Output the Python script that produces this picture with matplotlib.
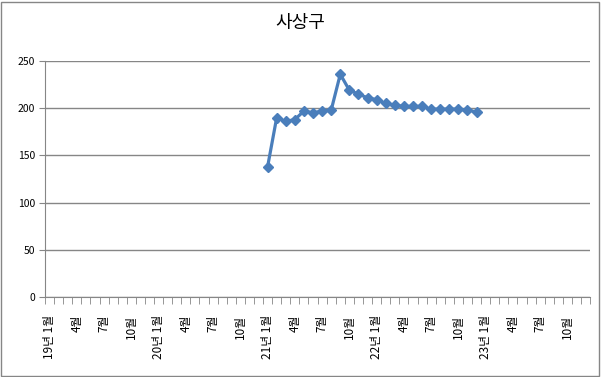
import numpy as np
import matplotlib.pyplot as plt
from matplotlib.patches import Rectangle

plt.rcParams['font.family'] = ['Noto Sans CJK KR', 'DejaVu Sans']

years = [19, 20, 21, 22, 23]
months = list(range(1, 13))
labels = []
for y in years:
    for m in months:
        if m == 1:
            labels.append(f"{y}년 {m}월")
        elif m in (4, 7, 10):
            labels.append(f"{m}월")
        else:
            labels.append("")

# 21년 1월 ~ 22년 12월
values_2021_2022 = [138, 190, 186, 188, 197, 195, 197, 198, 236, 219, 215, 211,
                    209, 205, 203, 202, 202, 202, 199, 199, 199, 199, 198, 196]

values = [np.nan] * 24 + values_2021_2022 + [np.nan] * 12

fig = plt.figure(figsize=(6.01, 3.77), dpi=100)
ax = fig.add_axes([0.0749, 0.2122, 0.907, 0.626])

x = np.arange(len(labels))
ax.plot(x, values, color="#4A7EBB", lw=2.3, marker="D", ms=5.5, zorder=3)

ax.set_xlim(-0.5, len(labels) - 0.5)
ax.set_ylim(0, 250)
ax.set_yticks(range(0, 251, 50))
ax.grid(axis="y", color="#868686", lw=1)
ax.set_axisbelow(True)

ax.set_xticks(x)
ax.set_xticklabels(labels, rotation=90, fontsize=8.5)
ax.set_xticks(np.arange(-0.5, len(labels), 1), minor=True)
ax.tick_params(axis="x", which="major", length=0, pad=13)
ax.tick_params(axis="x", which="minor", length=5, color="#868686")
ax.tick_params(axis="y", length=4, color="#868686", labelsize=7.5, pad=3)

for s in ("top", "right"):
    ax.spines[s].set_visible(False)
for s in ("left", "bottom"):
    ax.spines[s].set_color("#868686")

fig.text(0.5, 0.94, "사상구", ha="center", va="center", fontsize=13)
fig.patches.append(Rectangle((0.002, 0.003), 0.995, 0.993, transform=fig.transFigure,
                             fill=False, edgecolor="#868686", lw=1))

fig.savefig("out.png", dpi=100)
